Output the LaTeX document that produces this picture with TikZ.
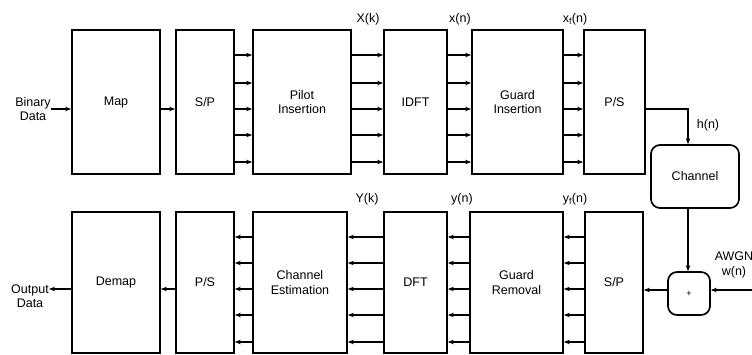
\documentclass[tikz,border=0pt]{standalone}
\usepackage{fontspec}
\setmainfont{Liberation Sans}
\usetikzlibrary{arrows.meta}
\begin{document}
\begin{tikzpicture}[x=1pt,y=-1pt,
  blk/.style={draw,line width=1.7pt,align=center,inner sep=0pt,font=\fontsize{12.5}{14.5}\selectfont},
  arr/.style={line width=1.4pt,-{Stealth[length=6pt,width=4.5pt]}},
  lbl/.style={font=\fontsize{12.5}{14.5}\selectfont,inner sep=0pt,align=center}]
\useasboundingbox (0,0) rectangle (752,354);
% top row
\node[blk,minimum width=88pt,minimum height=144pt] (map) at (116,102) {Map};
\node[blk,minimum width=58pt,minimum height=144pt] (sp1) at (205,102) {S/P};
\node[blk,minimum width=98pt,minimum height=144pt] (pilot) at (302,102) {Pilot\\Insertion};
\node[blk,minimum width=63pt,minimum height=144pt] (idft) at (415.5,102) {IDFT};
\node[blk,minimum width=91pt,minimum height=144pt] (gins) at (517.5,102) {Guard\\Insertion};
\node[blk,minimum width=61pt,minimum height=144pt] (ps1) at (614.5,102) {P/S};
% bottom row
\node[blk,minimum width=88pt,minimum height=141pt] (demap) at (116,282.5) {Demap};
\node[blk,minimum width=58pt,minimum height=141pt] (ps2) at (205,282.5) {P/S};
\node[blk,minimum width=94pt,minimum height=141pt] (chest) at (300,282.5) {Channel\\Estimation};
\node[blk,minimum width=63pt,minimum height=141pt] (dft) at (415.5,282.5) {DFT};
\node[blk,minimum width=93pt,minimum height=141pt] (grem) at (516.5,282.5) {Guard\\Removal};
\node[blk,minimum width=58pt,minimum height=141pt] (sp2) at (614,282.5) {S/P};
% channel and adder
\node[blk,rounded corners=9pt,minimum width=88pt,minimum height=63pt] (chan) at (695,176.5) {Channel};
\node[blk,rounded corners=9pt,minimum width=42pt,minimum height=43pt,font=\small] (plus) at (689,293.5) {+};
% side texts
\node[lbl] (bin) at (33,109) {Binary\\Data};
\node[lbl] (out) at (30,296) {Output\\Data};
\coordinate (awgnin) at (752,290);
\node[lbl] (awgn) at (734,265) {AWGN\\w(n)};
% single arrows
\draw[arr] (bin.east |- map.west) ++(0,7) coordinate (b0) -- (b0 -| map.west);
\draw[arr] ([yshift=-7pt]map.east) -- ([yshift=-7pt]sp1.west);
\draw[arr] ([yshift=-6.5pt]demap.west) -- ([yshift=-6.5pt]demap.west -| out.east);
\draw[arr] ([yshift=-6.5pt]ps2.west) -- ([yshift=-6.5pt]demap.east);
\draw[arr] (ps1.east |- 0,109) -| (chan.north -| 688,0);
\draw[arr] (chan.south -| 688,0) -- (plus.north -| 688,0);
\draw[arr] (awgnin) -- (awgnin -| plus.east);
\draw[arr] (plus.west |- awgnin) -- (sp2.east |- awgnin);
% parallel arrows top
\foreach \d in {47,19,-7,-33,-60}{
  \draw[arr] ([yshift=\d pt]sp1.east) -- ([yshift=\d pt]pilot.west);
  \draw[arr] ([yshift=\d pt]pilot.east) -- ([yshift=\d pt]idft.west);
  \draw[arr] ([yshift=\d pt]idft.east) -- ([yshift=\d pt]gins.west);
  \draw[arr] ([yshift=\d pt]gins.east) -- ([yshift=\d pt]ps1.west);
}
% parallel arrows bottom
\foreach \d in {45.5,19.5,-6.5,-32.5,-59.5}{
  \draw[arr] ([yshift=\d pt]sp2.west) -- ([yshift=\d pt]grem.east);
  \draw[arr] ([yshift=\d pt]grem.west) -- ([yshift=\d pt]dft.east);
  \draw[arr] ([yshift=\d pt]dft.west) -- ([yshift=\d pt]chest.east);
  \draw[arr] ([yshift=\d pt]chest.west) -- ([yshift=\d pt]ps2.east);
}
% signal labels
\node[lbl] (Xk) at (368,19) {X(k)};
\node[lbl] (xn) at (460,19) {x(n)};
\node[lbl] (xfn) at (575,19) {x\textsubscript{f}(n)};
\node[lbl] (Yk) at (367,199) {Y(k)};
\node[lbl] (yn) at (462,199) {y(n)};
\node[lbl] (yfn) at (575,199) {y\textsubscript{f}(n)};
\node[lbl] (hn) at (708,125) {h(n)};
\end{tikzpicture}
\end{document}
